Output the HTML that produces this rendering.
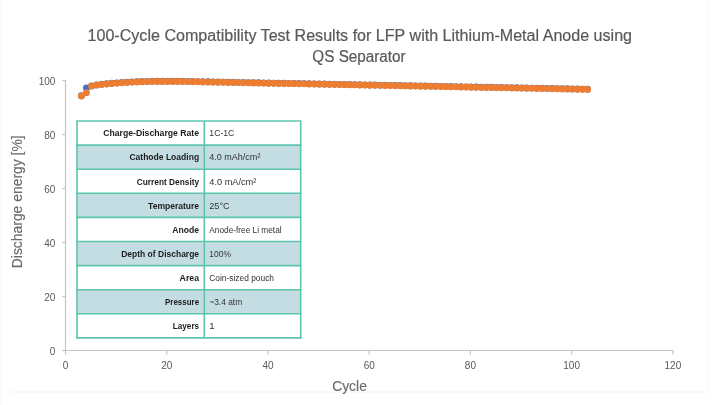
<!DOCTYPE html>
<html lang="en">
<head>
<meta charset="utf-8">
<title>100-Cycle Compatibility Test Results</title>
<style>
html,body{margin:0;padding:0;background:#fff;}
body{width:720px;height:405px;overflow:hidden;font-family:"Liberation Sans",sans-serif;}
svg{display:block;position:absolute;left:0;top:0;filter:blur(0.4px);}
text{font-family:"Liberation Sans",sans-serif;}
.title{font-size:16px;fill:#595959;stroke:#595959;stroke-width:0.2px;}
.ax{font-size:13.9px;fill:#6c6c6c;stroke:#6c6c6c;stroke-width:0.15px;}
.tk{font-size:10px;fill:#595959;}
.lb{font-size:9.7px;font-weight:700;fill:#1c1c1c;}
.vl{font-size:9.7px;fill:#333333;}
.axis line{stroke:#c4c4c4;stroke-width:1.2;}
.tbl line{stroke:#5cc5ab;stroke-width:1.6;}
</style>
</head>
<body>
<svg width="720" height="405" viewBox="0 0 720 405">
<rect x="0" y="0" width="720" height="405" fill="#ffffff"/>
<rect x="0" y="0" width="1" height="405" fill="#f5fbfb"/>
<rect x="707.5" y="0" width="1.6" height="392" fill="#fbfbfb"/>
<rect x="10" y="391" width="699" height="2" fill="#f9f9f9"/>
<text class="title" text-anchor="middle" x="359.8" y="40.5" textLength="544.5" lengthAdjust="spacingAndGlyphs">100-Cycle Compatibility Test Results for LFP with Lithium-Metal Anode using</text>
<text class="title" text-anchor="middle" x="359" y="62" textLength="93.3" lengthAdjust="spacingAndGlyphs">QS Separator</text>
<g class="axis">
<line x1="65.5" x2="65.5" y1="80" y2="351"/>
<line x1="65" x2="673.4" y1="350.5" y2="350.5"/>
<line x1="62.3" x2="65.5" y1="350.5" y2="350.5"/>
<line x1="62.3" x2="65.5" y1="296.5" y2="296.5"/>
<line x1="62.3" x2="65.5" y1="242.5" y2="242.5"/>
<line x1="62.3" x2="65.5" y1="188.5" y2="188.5"/>
<line x1="62.3" x2="65.5" y1="134.5" y2="134.5"/>
<line x1="62.3" x2="65.5" y1="80.5" y2="80.5"/>
<line x1="65.50" x2="65.50" y1="350.5" y2="354.5"/>
<line x1="166.73" x2="166.73" y1="350.5" y2="354.5"/>
<line x1="267.97" x2="267.97" y1="350.5" y2="354.5"/>
<line x1="369.20" x2="369.20" y1="350.5" y2="354.5"/>
<line x1="470.43" x2="470.43" y1="350.5" y2="354.5"/>
<line x1="571.67" x2="571.67" y1="350.5" y2="354.5"/>
<line x1="672.90" x2="672.90" y1="350.5" y2="354.5"/>
</g>
<text class="tk" text-anchor="end" x="55.4" y="354.50">0</text>
<text class="tk" text-anchor="end" x="55.4" y="300.50">20</text>
<text class="tk" text-anchor="end" x="55.4" y="246.50">40</text>
<text class="tk" text-anchor="end" x="55.4" y="192.50">60</text>
<text class="tk" text-anchor="end" x="55.4" y="138.50">80</text>
<text class="tk" text-anchor="end" x="55.4" y="84.50">100</text>
<text class="tk" text-anchor="middle" x="65.50" y="369.2">0</text>
<text class="tk" text-anchor="middle" x="166.73" y="369.2">20</text>
<text class="tk" text-anchor="middle" x="267.97" y="369.2">40</text>
<text class="tk" text-anchor="middle" x="369.20" y="369.2">60</text>
<text class="tk" text-anchor="middle" x="470.43" y="369.2">80</text>
<text class="tk" text-anchor="middle" x="571.67" y="369.2">100</text>
<text class="tk" text-anchor="middle" x="672.90" y="369.2">120</text>
<text class="ax" text-anchor="middle" transform="translate(21.5 201.8) rotate(-90)">Discharge energy [%]</text>
<text class="ax" text-anchor="middle" x="349.5" y="391">Cycle</text>
<g fill="#4472c4">
<circle cx="81.39" cy="95.80" r="3.45"/>
<circle cx="86.45" cy="87.90" r="3.45"/>
<circle cx="91.51" cy="85.90" r="3.45"/>
<circle cx="96.57" cy="84.90" r="3.45"/>
<circle cx="101.63" cy="84.30" r="3.45"/>
<circle cx="106.69" cy="83.80" r="3.45"/>
<circle cx="111.75" cy="83.30" r="3.45"/>
<circle cx="116.82" cy="82.90" r="3.45"/>
<circle cx="121.88" cy="82.50" r="3.45"/>
<circle cx="126.94" cy="82.20" r="3.45"/>
<circle cx="132.00" cy="81.90" r="3.45"/>
<circle cx="137.06" cy="81.70" r="3.45"/>
<circle cx="142.12" cy="81.50" r="3.45"/>
<circle cx="147.19" cy="81.40" r="3.45"/>
<circle cx="152.25" cy="81.30" r="3.45"/>
<circle cx="157.31" cy="81.25" r="3.45"/>
<circle cx="162.37" cy="81.20" r="3.45"/>
<circle cx="167.43" cy="81.20" r="3.45"/>
<circle cx="172.50" cy="81.20" r="3.45"/>
<circle cx="177.56" cy="81.20" r="3.45"/>
<circle cx="182.62" cy="81.30" r="3.45"/>
<circle cx="187.68" cy="81.40" r="3.45"/>
<circle cx="192.74" cy="81.50" r="3.45"/>
<circle cx="197.80" cy="81.60" r="3.45"/>
<circle cx="202.87" cy="81.69" r="3.45"/>
<circle cx="207.93" cy="81.79" r="3.45"/>
<circle cx="212.99" cy="81.89" r="3.45"/>
<circle cx="218.05" cy="81.99" r="3.45"/>
<circle cx="223.11" cy="82.09" r="3.45"/>
<circle cx="228.17" cy="82.19" r="3.45"/>
<circle cx="233.24" cy="82.29" r="3.45"/>
<circle cx="238.30" cy="82.39" r="3.45"/>
<circle cx="243.36" cy="82.48" r="3.45"/>
<circle cx="248.42" cy="82.58" r="3.45"/>
<circle cx="253.48" cy="82.68" r="3.45"/>
<circle cx="258.54" cy="82.78" r="3.45"/>
<circle cx="263.61" cy="82.88" r="3.45"/>
<circle cx="268.67" cy="82.98" r="3.45"/>
<circle cx="273.73" cy="83.08" r="3.45"/>
<circle cx="278.79" cy="83.18" r="3.45"/>
<circle cx="283.85" cy="83.27" r="3.45"/>
<circle cx="288.91" cy="83.37" r="3.45"/>
<circle cx="293.98" cy="83.47" r="3.45"/>
<circle cx="299.04" cy="83.57" r="3.45"/>
<circle cx="304.10" cy="83.67" r="3.45"/>
<circle cx="309.16" cy="83.77" r="3.45"/>
<circle cx="314.22" cy="83.87" r="3.45"/>
<circle cx="319.28" cy="83.97" r="3.45"/>
<circle cx="324.34" cy="84.06" r="3.45"/>
<circle cx="329.41" cy="84.16" r="3.45"/>
<circle cx="334.47" cy="84.26" r="3.45"/>
<circle cx="339.53" cy="84.36" r="3.45"/>
<circle cx="344.59" cy="84.46" r="3.45"/>
<circle cx="349.65" cy="84.56" r="3.45"/>
<circle cx="354.71" cy="84.66" r="3.45"/>
<circle cx="359.78" cy="84.76" r="3.45"/>
<circle cx="364.84" cy="84.85" r="3.45"/>
<circle cx="369.90" cy="84.95" r="3.45"/>
<circle cx="374.96" cy="85.05" r="3.45"/>
<circle cx="380.02" cy="85.15" r="3.45"/>
<circle cx="385.08" cy="85.25" r="3.45"/>
<circle cx="390.15" cy="85.35" r="3.45"/>
<circle cx="395.21" cy="85.45" r="3.45"/>
<circle cx="400.27" cy="85.55" r="3.45"/>
<circle cx="405.33" cy="85.64" r="3.45"/>
<circle cx="410.39" cy="85.74" r="3.45"/>
<circle cx="415.45" cy="85.84" r="3.45"/>
<circle cx="420.52" cy="85.94" r="3.45"/>
<circle cx="425.58" cy="86.04" r="3.45"/>
<circle cx="430.64" cy="86.14" r="3.45"/>
<circle cx="435.70" cy="86.24" r="3.45"/>
<circle cx="440.76" cy="86.34" r="3.45"/>
<circle cx="445.82" cy="86.43" r="3.45"/>
<circle cx="450.89" cy="86.53" r="3.45"/>
<circle cx="455.95" cy="86.63" r="3.45"/>
<circle cx="461.01" cy="86.73" r="3.45"/>
<circle cx="466.07" cy="86.83" r="3.45"/>
<circle cx="471.13" cy="86.93" r="3.45"/>
<circle cx="476.19" cy="87.03" r="3.45"/>
<circle cx="481.26" cy="87.13" r="3.45"/>
<circle cx="486.32" cy="87.22" r="3.45"/>
<circle cx="491.38" cy="87.32" r="3.45"/>
<circle cx="496.44" cy="87.42" r="3.45"/>
<circle cx="501.50" cy="87.52" r="3.45"/>
<circle cx="506.56" cy="87.62" r="3.45"/>
<circle cx="511.63" cy="87.72" r="3.45"/>
<circle cx="516.69" cy="87.82" r="3.45"/>
<circle cx="521.75" cy="87.92" r="3.45"/>
<circle cx="526.81" cy="88.01" r="3.45"/>
<circle cx="531.87" cy="88.11" r="3.45"/>
<circle cx="536.94" cy="88.21" r="3.45"/>
<circle cx="542.00" cy="88.31" r="3.45"/>
<circle cx="547.06" cy="88.41" r="3.45"/>
<circle cx="552.12" cy="88.51" r="3.45"/>
<circle cx="557.18" cy="88.61" r="3.45"/>
<circle cx="562.24" cy="88.71" r="3.45"/>
<circle cx="567.30" cy="88.80" r="3.45"/>
<circle cx="572.37" cy="88.90" r="3.45"/>
<circle cx="577.43" cy="89.00" r="3.45"/>
<circle cx="582.49" cy="89.10" r="3.45"/>
<circle cx="587.55" cy="89.20" r="3.45"/>
</g>
<g fill="#ed7d31">
<circle cx="81.39" cy="96.00" r="3.45"/>
<circle cx="86.45" cy="92.70" r="3.45"/>
<circle cx="91.51" cy="86.10" r="3.45"/>
<circle cx="96.57" cy="85.10" r="3.45"/>
<circle cx="101.63" cy="84.50" r="3.45"/>
<circle cx="106.69" cy="84.00" r="3.45"/>
<circle cx="111.75" cy="83.50" r="3.45"/>
<circle cx="116.82" cy="83.10" r="3.45"/>
<circle cx="121.88" cy="82.70" r="3.45"/>
<circle cx="126.94" cy="82.40" r="3.45"/>
<circle cx="132.00" cy="82.10" r="3.45"/>
<circle cx="137.06" cy="81.90" r="3.45"/>
<circle cx="142.12" cy="81.70" r="3.45"/>
<circle cx="147.19" cy="81.60" r="3.45"/>
<circle cx="152.25" cy="81.50" r="3.45"/>
<circle cx="157.31" cy="81.45" r="3.45"/>
<circle cx="162.37" cy="81.40" r="3.45"/>
<circle cx="167.43" cy="81.40" r="3.45"/>
<circle cx="172.50" cy="81.40" r="3.45"/>
<circle cx="177.56" cy="81.40" r="3.45"/>
<circle cx="182.62" cy="81.50" r="3.45"/>
<circle cx="187.68" cy="81.60" r="3.45"/>
<circle cx="192.74" cy="81.70" r="3.45"/>
<circle cx="197.80" cy="81.80" r="3.45"/>
<circle cx="202.87" cy="81.89" r="3.45"/>
<circle cx="207.93" cy="81.99" r="3.45"/>
<circle cx="212.99" cy="82.09" r="3.45"/>
<circle cx="218.05" cy="82.19" r="3.45"/>
<circle cx="223.11" cy="82.29" r="3.45"/>
<circle cx="228.17" cy="82.39" r="3.45"/>
<circle cx="233.24" cy="82.49" r="3.45"/>
<circle cx="238.30" cy="82.59" r="3.45"/>
<circle cx="243.36" cy="82.68" r="3.45"/>
<circle cx="248.42" cy="82.78" r="3.45"/>
<circle cx="253.48" cy="82.88" r="3.45"/>
<circle cx="258.54" cy="82.98" r="3.45"/>
<circle cx="263.61" cy="83.08" r="3.45"/>
<circle cx="268.67" cy="83.18" r="3.45"/>
<circle cx="273.73" cy="83.28" r="3.45"/>
<circle cx="278.79" cy="83.38" r="3.45"/>
<circle cx="283.85" cy="83.47" r="3.45"/>
<circle cx="288.91" cy="83.57" r="3.45"/>
<circle cx="293.98" cy="83.67" r="3.45"/>
<circle cx="299.04" cy="83.77" r="3.45"/>
<circle cx="304.10" cy="83.87" r="3.45"/>
<circle cx="309.16" cy="83.97" r="3.45"/>
<circle cx="314.22" cy="84.07" r="3.45"/>
<circle cx="319.28" cy="84.17" r="3.45"/>
<circle cx="324.34" cy="84.26" r="3.45"/>
<circle cx="329.41" cy="84.36" r="3.45"/>
<circle cx="334.47" cy="84.46" r="3.45"/>
<circle cx="339.53" cy="84.56" r="3.45"/>
<circle cx="344.59" cy="84.66" r="3.45"/>
<circle cx="349.65" cy="84.76" r="3.45"/>
<circle cx="354.71" cy="84.86" r="3.45"/>
<circle cx="359.78" cy="84.96" r="3.45"/>
<circle cx="364.84" cy="85.05" r="3.45"/>
<circle cx="369.90" cy="85.15" r="3.45"/>
<circle cx="374.96" cy="85.25" r="3.45"/>
<circle cx="380.02" cy="85.35" r="3.45"/>
<circle cx="385.08" cy="85.45" r="3.45"/>
<circle cx="390.15" cy="85.55" r="3.45"/>
<circle cx="395.21" cy="85.65" r="3.45"/>
<circle cx="400.27" cy="85.75" r="3.45"/>
<circle cx="405.33" cy="85.84" r="3.45"/>
<circle cx="410.39" cy="85.94" r="3.45"/>
<circle cx="415.45" cy="86.04" r="3.45"/>
<circle cx="420.52" cy="86.14" r="3.45"/>
<circle cx="425.58" cy="86.24" r="3.45"/>
<circle cx="430.64" cy="86.34" r="3.45"/>
<circle cx="435.70" cy="86.44" r="3.45"/>
<circle cx="440.76" cy="86.54" r="3.45"/>
<circle cx="445.82" cy="86.63" r="3.45"/>
<circle cx="450.89" cy="86.73" r="3.45"/>
<circle cx="455.95" cy="86.83" r="3.45"/>
<circle cx="461.01" cy="86.93" r="3.45"/>
<circle cx="466.07" cy="87.03" r="3.45"/>
<circle cx="471.13" cy="87.13" r="3.45"/>
<circle cx="476.19" cy="87.23" r="3.45"/>
<circle cx="481.26" cy="87.33" r="3.45"/>
<circle cx="486.32" cy="87.42" r="3.45"/>
<circle cx="491.38" cy="87.52" r="3.45"/>
<circle cx="496.44" cy="87.62" r="3.45"/>
<circle cx="501.50" cy="87.72" r="3.45"/>
<circle cx="506.56" cy="87.82" r="3.45"/>
<circle cx="511.63" cy="87.92" r="3.45"/>
<circle cx="516.69" cy="88.02" r="3.45"/>
<circle cx="521.75" cy="88.12" r="3.45"/>
<circle cx="526.81" cy="88.21" r="3.45"/>
<circle cx="531.87" cy="88.31" r="3.45"/>
<circle cx="536.94" cy="88.41" r="3.45"/>
<circle cx="542.00" cy="88.51" r="3.45"/>
<circle cx="547.06" cy="88.61" r="3.45"/>
<circle cx="552.12" cy="88.71" r="3.45"/>
<circle cx="557.18" cy="88.81" r="3.45"/>
<circle cx="562.24" cy="88.91" r="3.45"/>
<circle cx="567.30" cy="89.00" r="3.45"/>
<circle cx="572.37" cy="89.10" r="3.45"/>
<circle cx="577.43" cy="89.20" r="3.45"/>
<circle cx="582.49" cy="89.30" r="3.45"/>
<circle cx="587.55" cy="89.40" r="3.45"/>
</g>
<g class="tbl">
<rect x="77.0" y="121.0" width="223.70" height="216.90" fill="#ffffff"/>
<rect x="77.0" y="145.10" width="223.70" height="24.1" fill="#c4dde3"/>
<rect x="77.0" y="193.30" width="223.70" height="24.1" fill="#c4dde3"/>
<rect x="77.0" y="241.50" width="223.70" height="24.1" fill="#c4dde3"/>
<rect x="77.0" y="289.70" width="223.70" height="24.1" fill="#c4dde3"/>
<line x1="76.25" x2="301.45" y1="121.00" y2="121.00"/>
<line x1="76.25" x2="301.45" y1="145.10" y2="145.10"/>
<line x1="76.25" x2="301.45" y1="169.20" y2="169.20"/>
<line x1="76.25" x2="301.45" y1="193.30" y2="193.30"/>
<line x1="76.25" x2="301.45" y1="217.40" y2="217.40"/>
<line x1="76.25" x2="301.45" y1="241.50" y2="241.50"/>
<line x1="76.25" x2="301.45" y1="265.60" y2="265.60"/>
<line x1="76.25" x2="301.45" y1="289.70" y2="289.70"/>
<line x1="76.25" x2="301.45" y1="313.80" y2="313.80"/>
<line x1="76.25" x2="301.45" y1="337.90" y2="337.90"/>
<line x1="77.0" x2="77.0" y1="121.0" y2="337.90"/>
<line x1="204.3" x2="204.3" y1="121.0" y2="337.90"/>
<line x1="300.7" x2="300.7" y1="121.0" y2="337.90"/>
</g>
<text class="lb" x="103.2" y="136.30" textLength="95.9" lengthAdjust="spacingAndGlyphs">Charge-Discharge Rate</text>
<text class="vl" x="209.3" y="136.30" textLength="25.1" lengthAdjust="spacingAndGlyphs">1C-1C</text>
<text class="lb" x="129.4" y="160.40" textLength="69.7" lengthAdjust="spacingAndGlyphs">Cathode Loading</text>
<text class="vl" x="209.3" y="160.40" textLength="51.1" lengthAdjust="spacingAndGlyphs">4.0 mAh/cm²</text>
<text class="lb" x="136.7" y="184.50" textLength="62.4" lengthAdjust="spacingAndGlyphs">Current Density</text>
<text class="vl" x="209.3" y="184.50" textLength="47.0" lengthAdjust="spacingAndGlyphs">4.0 mA/cm²</text>
<text class="lb" x="148.1" y="208.60" textLength="51.0" lengthAdjust="spacingAndGlyphs">Temperature</text>
<text class="vl" x="209.3" y="208.60" textLength="20.4" lengthAdjust="spacingAndGlyphs">25°C</text>
<text class="lb" x="172.3" y="232.70" textLength="26.8" lengthAdjust="spacingAndGlyphs">Anode</text>
<text class="vl" x="209.3" y="232.70" textLength="72.3" lengthAdjust="spacingAndGlyphs">Anode-free Li metal</text>
<text class="lb" x="121.2" y="256.80" textLength="77.9" lengthAdjust="spacingAndGlyphs">Depth of Discharge</text>
<text class="vl" x="209.3" y="256.80" textLength="21.6" lengthAdjust="spacingAndGlyphs">100%</text>
<text class="lb" x="179.6" y="280.90" textLength="19.5" lengthAdjust="spacingAndGlyphs">Area</text>
<text class="vl" x="209.3" y="280.90" textLength="64.7" lengthAdjust="spacingAndGlyphs">Coin-sized pouch</text>
<text class="lb" x="165.0" y="305.00" textLength="34.1" lengthAdjust="spacingAndGlyphs">Pressure</text>
<text class="vl" x="209.3" y="305.00" textLength="32.9" lengthAdjust="spacingAndGlyphs">~3.4 atm</text>
<text class="lb" x="172.8" y="329.10" textLength="26.3" lengthAdjust="spacingAndGlyphs">Layers</text>
<text class="vl" x="209.3" y="329.10">1</text>
</svg>
</body>
</html>
